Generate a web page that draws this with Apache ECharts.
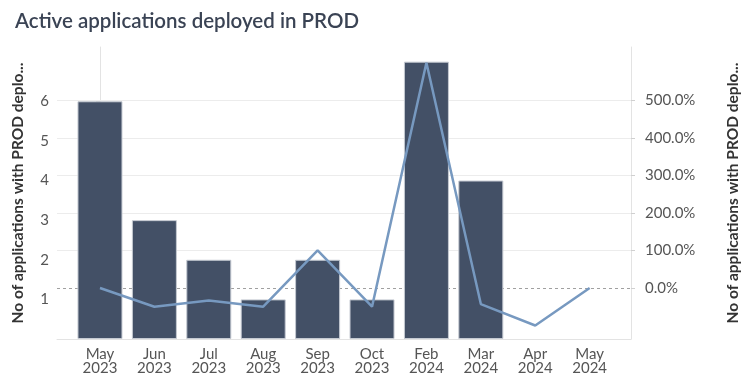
<!DOCTYPE html>
<html>
<head>
<meta charset="utf-8">
<script src="https://cdn.jsdelivr.net/npm/echarts@6/dist/echarts.min.js"></script>
<style>html,body{margin:0;padding:0;background:#fff}#c{width:749px;height:385px}</style>
</head>
<body>
<div id="c"></div>
<script>
const categories = ['May\n2023','Jun\n2023','Jul\n2023','Aug\n2023','Sep\n2023','Oct\n2023','Feb\n2024','Mar\n2024','Apr\n2024','May\n2024'];
const appCounts = [6, 3, 2, 1, 2, 1, 7, 4, null, null];
const pctChange = [0, -50, -33.33, -50, 100, -50, 600, -42.86, -100, 0];
const leftTicks = [1, 2, 3, 4, 5, 6];
const rightTicks = [0, 100, 200, 300, 400, 500];
const gridTicks = [100, 200, 300, 400, 500];
const idx = categories.map((c, i) => i);
const axisName = 'No of applications with PROD deplo...';
const font = 'Lato, "Noto Sans", sans-serif';

const chart = echarts.init(document.getElementById('c'), null, {renderer: 'canvas'});
chart.setOption({
  animation: false,
  title: {
    text: 'Active applications deployed in PROD',
    left: 10, top: 6,
    textStyle: {fontFamily: font, fontSize: 20.5, fontWeight: 600, color: '#3a4354'}
  },
  grid: {left: 57, right: 116, top: 47, bottom: 46},
  xAxis: {
    type: 'value', min: -0.79, max: 9.76,
    axisLine: {show: true, lineStyle: {color: '#e3e3e3'}},
    axisTick: {show: false},
    splitLine: {show: false},
    axisLabel: {
      customValues: idx,
      formatter: v => categories[Math.round(v)] || '',
      fontFamily: font, fontSize: 15, color: '#555', lineHeight: 14, margin: 8
    }
  },
  yAxis: [
    {
      type: 'value', min: 0, max: 7.37, position: 'left',
      name: axisName, nameLocation: 'middle', nameRotate: 90, nameGap: 31,
      nameTextStyle: {fontFamily: font, fontSize: 15.5, fontWeight: 'bold', color: '#333'},
      axisLine: {show: true, lineStyle: {color: '#e3e3e3'}},
      axisTick: {show: true, customValues: leftTicks, length: 4, lineStyle: {color: '#d0d0d0'}},
      axisLabel: {customValues: leftTicks, fontFamily: font, fontSize: 15, color: '#555', margin: 8},
      splitLine: {show: false}
    },
    {
      type: 'value', min: -136, max: 642, position: 'right',
      name: axisName, nameLocation: 'middle', nameRotate: 90, nameGap: 94,
      nameTextStyle: {fontFamily: font, fontSize: 15.5, fontWeight: 'bold', color: '#333'},
      axisLine: {show: true, lineStyle: {color: '#e3e3e3'}},
      axisTick: {show: true, customValues: rightTicks, length: 4, lineStyle: {color: '#d0d0d0'}},
      axisLabel: {customValues: rightTicks, formatter: v => v.toFixed(1) + '%', fontFamily: font, fontSize: 15, color: '#555', margin: 14},
      splitLine: {show: false}
    }
  ],
  series: [
    {
      type: 'bar', yAxisIndex: 0, barWidth: 45,
      data: appCounts.map((v, i) => [i, v]),
      itemStyle: {color: '#435066', borderColor: '#c5cad2', borderWidth: 1},
      z: 2
    },
    {
      type: 'line', yAxisIndex: 1,
      data: pctChange.map((v, i) => [i, v]),
      showSymbol: false, symbol: 'none',
      lineStyle: {color: '#7799c0', width: 2.5},
      markLine: {
        silent: true, symbol: 'none', label: {show: false},
        data: [
          {yAxis: 0, lineStyle: {color: '#a0a0a0', type: [3, 3], width: 1}}
        ].concat(gridTicks.map(t => ({yAxis: t, lineStyle: {color: '#ececec', type: 'solid', width: 1}}))),
        z: 1
      },
      z: 3
    }
  ]
});
</script>
</body>
</html>
